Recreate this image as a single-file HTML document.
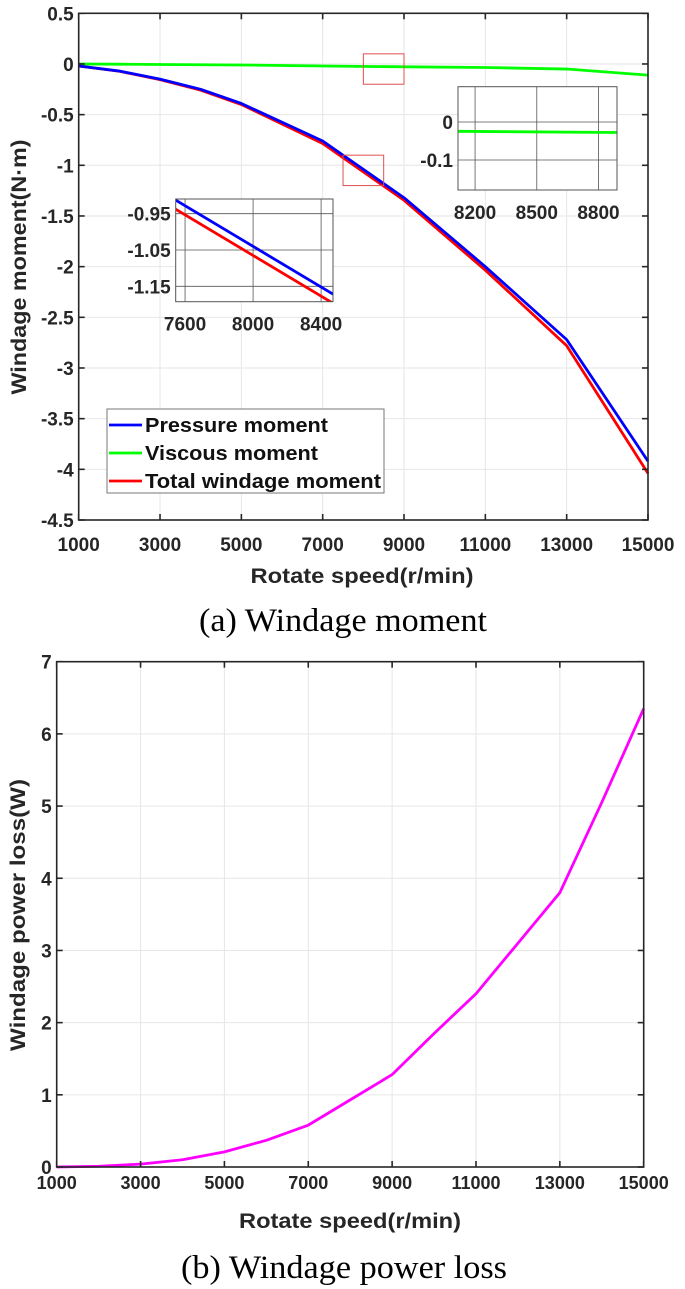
<!DOCTYPE html>
<html><head><meta charset="utf-8">
<style>
html,body{margin:0;padding:0;background:#fff;}
svg{display:block;font-family:"Liberation Sans",sans-serif;}
.tk{font-weight:bold;fill:#262626;}
</style></head>
<body>
<svg id="fig" width="685" height="1289" viewBox="0 0 685 1289"></svg>
<script>
// ---- Chart (a) data ----
const speedsA = [1000, 2000, 3000, 4000, 5000, 7000, 9000, 11000, 13000, 15000];
const pressureMoment = [-0.02, -0.07, -0.15, -0.25, -0.39, -0.76, -1.32, -2.0, -2.72, -3.92];
const viscousMoment = [0, -0.002, -0.005, -0.008, -0.01, -0.02, -0.028, -0.035, -0.05, -0.11];
const totalMoment = [-0.02, -0.072, -0.155, -0.258, -0.40, -0.785, -1.345, -2.035, -2.78, -4.04];
const xTicksA = [1000, 3000, 5000, 7000, 9000, 11000, 13000, 15000];
const yTicksA = [0.5, 0, -0.5, -1, -1.5, -2, -2.5, -3, -3.5, -4, -4.5];
const yTickLabelsA = ["0.5","0","-0.5","-1","-1.5","-2","-2.5","-3","-3.5","-4","-4.5"];
const inset1XTicks = [7600, 8000, 8400];
const inset1YTicks = [-0.95, -1.05, -1.15];
const inset1YLabels = ["-0.95", "-1.05", "-1.15"];
const inset2XTicks = [8200, 8500, 8800];
const inset2YTicks = [0, -0.1];
const inset2YLabels = ["0", "-0.1"];
// ---- Chart (b) data ----
const speedsB = [1000, 2000, 3000, 4000, 5000, 6000, 7000, 8000, 9000, 10000, 11000, 12000, 13000, 14000, 15000];
const powerLoss = [0, 0.01, 0.04, 0.1, 0.21, 0.37, 0.58, 0.93, 1.28, 1.85, 2.4, 3.1, 3.8, 5.05, 6.35];
const xTicksB = [1000, 3000, 5000, 7000, 9000, 11000, 13000, 15000];
const yTicksB = [0, 1, 2, 3, 4, 5, 6, 7];

const NS = "http://www.w3.org/2000/svg";
const svg = document.getElementById("fig");
function mk(tag, attrs, parent) {
  const e = document.createElementNS(NS, tag);
  for (const k in attrs) e.setAttribute(k, attrs[k]);
  (parent || svg).appendChild(e);
  return e;
}
function lin(d0, d1, r0, r1) { return v => r0 + (v - d0) / (d1 - d0) * (r1 - r0); }
function pathOf(xs, ys, sx, sy) { return xs.map((x, i) => (i ? "L" : "M") + sx(x).toFixed(2) + "," + sy(ys[i]).toFixed(2)).join(" "); }

// ================= Chart (a) =================
const A = {l: 78.7, r: 648, t: 13.3, b: 520};
const axA = lin(1000, 15000, A.l, A.r);
const ayA = lin(0.5, -4.5, A.t, A.b);
const gA = mk("g", {});


xTicksA.forEach(v => {
  const l = mk("line", {x1: axA(v), x2: axA(v), y1: A.t, y2: A.b, stroke: "#e6e6e6", "stroke-width": 1}, gA);
  
  
});
yTicksA.forEach(v => {
  const l = mk("line", {x1: A.l, x2: A.r, y1: ayA(v), y2: ayA(v), stroke: "#e6e6e6", "stroke-width": 1}, gA);
  
  
});
const seriesA = [[pressureMoment, "#0000ff", "pressure-moment-line"], [viscousMoment, "#00ff00", "viscous-moment-line"], [totalMoment, "#ff0000", "total-windage-moment-line"]];
[seriesA[1], seriesA[2], seriesA[0]].forEach(s => {
  const p = mk("path", {d: pathOf(speedsA, s[0], axA, ayA), fill: "none", stroke: s[1], "stroke-width": 2.8, "stroke-linejoin": "round"}, gA);
  
  
});
const fA = mk("rect", {x: A.l, y: A.t, width: A.r - A.l, height: A.b - A.t, fill: "none", stroke: "#262626", "stroke-width": 1.6}, gA);


xTicksA.forEach(v => {
  mk("line", {x1: axA(v), x2: axA(v), y1: A.b, y2: A.b - 6, stroke: "#262626", "stroke-width": 1.6}, gA);
  mk("line", {x1: axA(v), x2: axA(v), y1: A.t, y2: A.t + 6, stroke: "#262626", "stroke-width": 1.6}, gA);
  const t = mk("text", {x: axA(v), y: 551, "text-anchor": "middle", "font-size": 19, class: "tk"}, gA);
  t.textContent = v;
  
  
});
yTicksA.forEach((v, i) => {
  mk("line", {x1: A.l, x2: A.l + 6, y1: ayA(v), y2: ayA(v), stroke: "#262626", "stroke-width": 1.6}, gA);
  mk("line", {x1: A.r, x2: A.r - 6, y1: ayA(v), y2: ayA(v), stroke: "#262626", "stroke-width": 1.6}, gA);
  const t = mk("text", {x: A.l - 5, y: ayA(v) + 7, "text-anchor": "end", "font-size": 19, class: "tk"}, gA);
  t.textContent = yTickLabelsA[i];
  
  
});
let t;
t = mk("text", {x: 362, y: 583, "text-anchor": "middle", "font-size": 21, class: "tk", textLength: 223, lengthAdjust: "spacingAndGlyphs"}, gA);
t.textContent = "Rotate speed(r/min)";


t = mk("text", {x: 0, y: 0, "text-anchor": "middle", "font-size": 21, class: "tk", textLength: 255, lengthAdjust: "spacingAndGlyphs", transform: "translate(26,267) rotate(-90)"}, gA);
t.textContent = "Windage moment(N·m)";



let r;
r = mk("rect", {x: axA(8000), y: ayA(0.1), width: axA(9000) - axA(8000), height: ayA(-0.2) - ayA(0.1), fill: "none", stroke: "#e05050", "stroke-width": 1}, gA);


r = mk("rect", {x: axA(7500), y: ayA(-0.9), width: axA(8500) - axA(7500), height: ayA(-1.2) - ayA(-0.9), fill: "none", stroke: "#e05050", "stroke-width": 1}, gA);



function inset(name, box, xd, yd, xt, yt, ytl, series) {
  const g = mk("g", {});
  
  
  const sx = lin(xd[0], xd[1], box.l, box.r), sy = lin(yd[0], yd[1], box.t, box.b);
  mk("rect", {x: box.l, y: box.t, width: box.r - box.l, height: box.b - box.t, fill: "#fff", stroke: "none"}, g);
  const cid = name + "-clip";
  const cp = mk("clipPath", {id: cid}, g);
  mk("rect", {x: box.l, y: box.t, width: box.r - box.l, height: box.b - box.t}, cp);
  xt.forEach(v => { mk("line", {x1: sx(v), x2: sx(v), y1: box.t, y2: box.b, stroke: "#555", "stroke-width": 0.8}, g);
    const tt = mk("text", {x: sx(v), y: box.b + 29, "text-anchor": "middle", "font-size": 19, class: "tk"}, g);
    tt.textContent = v;
    
     });
  yt.forEach((v, i) => { mk("line", {x1: box.l, x2: box.r, y1: sy(v), y2: sy(v), stroke: "#555", "stroke-width": 0.8}, g);
    const tt = mk("text", {x: box.l - 5, y: sy(v) + 7, "text-anchor": "end", "font-size": 19, class: "tk"}, g);
    tt.textContent = ytl[i];
    
     });
  const sg = mk("g", {"clip-path": "url(#" + cid + ")"}, g);
  series.forEach(s => {
    const p = mk("path", {d: pathOf(speedsA, s[0], sx, sy), fill: "none", stroke: s[1], "stroke-width": 2.8}, sg);
    
    
  });
  mk("rect", {x: box.l, y: box.t, width: box.r - box.l, height: box.b - box.t, fill: "none", stroke: "#555", "stroke-width": 1}, g);
}
inset("inset-total-zoom", {l: 175.7, r: 333, t: 199, b: 301.7}, [7545, 8470], [-0.9095, -1.1924], inset1XTicks, inset1YTicks, inset1YLabels,
  [[totalMoment, "#ff0000", "inset-total-line"], [pressureMoment, "#0000ff", "inset-pressure-line"]]);
inset("inset-viscous-zoom", {l: 458, r: 617, t: 86.7, b: 190}, [8117, 8890], [0.093, -0.179], inset2XTicks, inset2YTicks, inset2YLabels,
  [[viscousMoment, "#00ff00", "inset-viscous-line"]]);

const lg = mk("g", {});


mk("rect", {x: 107, y: 409, width: 277, height: 84, fill: "#fff", stroke: "#777", "stroke-width": 1}, lg);
[["Pressure moment", "#0000ff", 425, 183], ["Viscous moment", "#00ff00", 453, 173], ["Total windage moment", "#ff0000", 481, 236]].forEach(e => {
  const g = mk("g", {}, lg);
  
  
  mk("line", {x1: 109, x2: 142, y1: e[2], y2: e[2], stroke: e[1], "stroke-width": 2.8}, g);
  const tt = mk("text", {x: 145, y: e[2] + 7, "font-size": 20, "font-weight": "bold", fill: "#111", textLength: e[3], lengthAdjust: "spacingAndGlyphs"}, g);
  tt.textContent = e[0];
});

t = mk("text", {x: 343, y: 631, "text-anchor": "middle", "font-size": 33, "font-family": "Liberation Serif, serif", fill: "#000", textLength: 288, lengthAdjust: "spacingAndGlyphs"});
t.textContent = "(a) Windage moment";



// ================= Chart (b) =================
const B = {l: 56.7, r: 643.7, t: 661.7, b: 1167};
const axB = lin(1000, 15000, B.l, B.r);
const ayB = lin(0, 7, B.b, B.t);
const gB = mk("g", {});


xTicksB.forEach(v => {
  const l = mk("line", {x1: axB(v), x2: axB(v), y1: B.t, y2: B.b, stroke: "#e6e6e6", "stroke-width": 1}, gB);
  
  
});
yTicksB.forEach(v => {
  const l = mk("line", {x1: B.l, x2: B.r, y1: ayB(v), y2: ayB(v), stroke: "#e6e6e6", "stroke-width": 1}, gB);
  
  
});
const pb = mk("path", {d: pathOf(speedsB, powerLoss, axB, ayB), fill: "none", stroke: "#ff00ff", "stroke-width": 2.8, "stroke-linejoin": "round"}, gB);


const fB = mk("rect", {x: B.l, y: B.t, width: B.r - B.l, height: B.b - B.t, fill: "none", stroke: "#262626", "stroke-width": 1.6}, gB);


xTicksB.forEach(v => {
  mk("line", {x1: axB(v), x2: axB(v), y1: B.b, y2: B.b - 6, stroke: "#262626", "stroke-width": 1.6}, gB);
  mk("line", {x1: axB(v), x2: axB(v), y1: B.t, y2: B.t + 6, stroke: "#262626", "stroke-width": 1.6}, gB);
  const tt = mk("text", {x: axB(v), y: 1189, "text-anchor": "middle", "font-size": 18, class: "tk"}, gB);
  tt.textContent = v;
  
  
});
yTicksB.forEach(v => {
  mk("line", {x1: B.l, x2: B.l + 6, y1: ayB(v), y2: ayB(v), stroke: "#262626", "stroke-width": 1.6}, gB);
  mk("line", {x1: B.r, x2: B.r - 6, y1: ayB(v), y2: ayB(v), stroke: "#262626", "stroke-width": 1.6}, gB);
  const tt = mk("text", {x: B.l - 5, y: ayB(v) + 7, "text-anchor": "end", "font-size": 19, class: "tk"}, gB);
  tt.textContent = v;
  
  
});
t = mk("text", {x: 350, y: 1228, "text-anchor": "middle", "font-size": 21, class: "tk", textLength: 222, lengthAdjust: "spacingAndGlyphs"}, gB);
t.textContent = "Rotate speed(r/min)";


t = mk("text", {x: 0, y: 0, "text-anchor": "middle", "font-size": 21, class: "tk", textLength: 272, lengthAdjust: "spacingAndGlyphs", transform: "translate(25,915) rotate(-90)"}, gB);
t.textContent = "Windage power loss(W)";



t = mk("text", {x: 344, y: 1278, "text-anchor": "middle", "font-size": 33, "font-family": "Liberation Serif, serif", fill: "#000", textLength: 326, lengthAdjust: "spacingAndGlyphs"});
t.textContent = "(b) Windage power loss";


</script>
</body></html>
